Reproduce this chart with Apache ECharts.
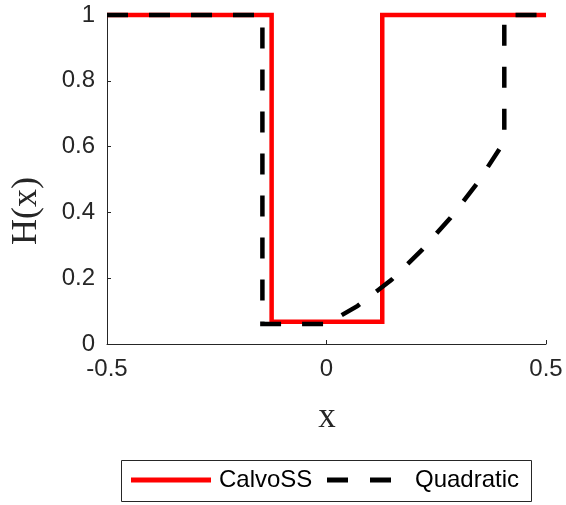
<!DOCTYPE html>
<html>
<head>
<meta charset="utf-8">
<script src="https://cdn.jsdelivr.net/npm/echarts@6/dist/echarts.min.js"></script>
<style>html,body{margin:0;padding:0;background:#fff}#c{width:566px;height:505px}</style>
</head>
<body>
<div id="c"></div>
<script>
var seriesNames = ['CalvoSS', 'Quadratic'];
var calvoX = [-0.5, -0.125, -0.125, 0.127, 0.127, 0.5];
var calvoY = [1, 1, 0.068, 0.068, 1, 1];
var quadX = [-0.5, -0.146, -0.146, 0.0, 0.071, 0.148, 0.218, 0.282, 0.342, 0.405, 0.405, 0.5];
var quadY = [1, 1, 0.061, 0.061, 0.116, 0.195, 0.287, 0.383, 0.486, 0.615, 1, 1];
var xTicks = [-0.5, 0, 0.5];
var yTicks = [0, 0.2, 0.4, 0.6, 0.8, 1];
var xTitle = 'x';
var yTitle = 'H(x)';

function pairs(xs, ys) { return xs.map(function (x, i) { return [x, ys[i]]; }); }

var axisColor = '#262626';
var chart = echarts.init(document.getElementById('c'), null, {renderer: 'canvas'});
chart.setOption({
  animation: false,
  backgroundColor: '#fff',
  grid: {left: 107, right: 20, top: 15, bottom: 161, containLabel: false},
  xAxis: {
    type: 'value', min: xTicks[0], max: xTicks[xTicks.length - 1], interval: 0.5,
    axisLine: {show: true, onZero: false, lineStyle: {color: axisColor, width: 1}},
    axisTick: {show: true, inside: true, length: 4, lineStyle: {color: axisColor}},
    axisLabel: {color: axisColor, fontFamily: 'Liberation Sans', fontSize: 24, margin: 13,
      formatter: function (v) { return String(v); }},
    splitLine: {show: false}
  },
  yAxis: {
    type: 'value', min: yTicks[0], max: yTicks[yTicks.length - 1], interval: 0.2,
    axisLine: {show: true, onZero: false, lineStyle: {color: axisColor, width: 1}},
    axisTick: {show: true, inside: true, length: 4, lineStyle: {color: axisColor}},
    axisLabel: {color: axisColor, fontFamily: 'Liberation Sans', fontSize: 24, margin: 12,
      formatter: function (v) { return String(Math.round(v * 10) / 10); }},
    splitLine: {show: false}
  },
  legend: [
    {data: [{name: seriesNames[0], icon: 'path://M0,0H80V5H0Z'}], left: 131, top: 468,
      itemWidth: 80, itemHeight: 5, itemGap: 0, padding: 0,
      textStyle: {fontFamily: 'Liberation Sans', fontSize: 24, color: '#000', padding: [0, 0, 0, 3]}},
    {data: [{name: seriesNames[1], icon: 'path://M0,0H21V5H0ZM43,0H64V5H43Z'}], left: 327, top: 468,
      itemWidth: 64, itemHeight: 5, itemGap: 0, padding: 0,
      textStyle: {fontFamily: 'Liberation Sans', fontSize: 24, color: '#000', padding: [0, 0, 0, 19]}}
  ],
  graphic: [
    {type: 'rect', shape: {x: 121.5, y: 460.5, width: 410, height: 41},
      style: {fill: 'none', stroke: '#262626', lineWidth: 1}, z: 0, silent: true},
    {type: 'text', x: 27, y: 211, rotation: Math.PI / 2,
      style: {text: yTitle, font: '36px "Liberation Serif"', fill: axisColor, align: 'center', verticalAlign: 'middle'}},
    {type: 'text', x: 327, y: 418,
      style: {text: xTitle, font: '35px "Liberation Serif"', fill: axisColor, align: 'center', verticalAlign: 'middle'}}
  ],
  series: [
    {name: seriesNames[0], type: 'line', data: pairs(calvoX, calvoY), symbol: 'none', clip: false,
      lineStyle: {color: '#ff0000', width: 4.5, join: 'miter'}, itemStyle: {color: '#ff0000'}, z: 2},
    {name: seriesNames[1], type: 'line', data: pairs(quadX, quadY), symbol: 'none', clip: false,
      lineStyle: {color: '#000000', width: 4.5, type: [21, 21], join: 'miter'}, itemStyle: {color: '#000000'}, z: 3}
  ]
});
</script>
</body>
</html>
